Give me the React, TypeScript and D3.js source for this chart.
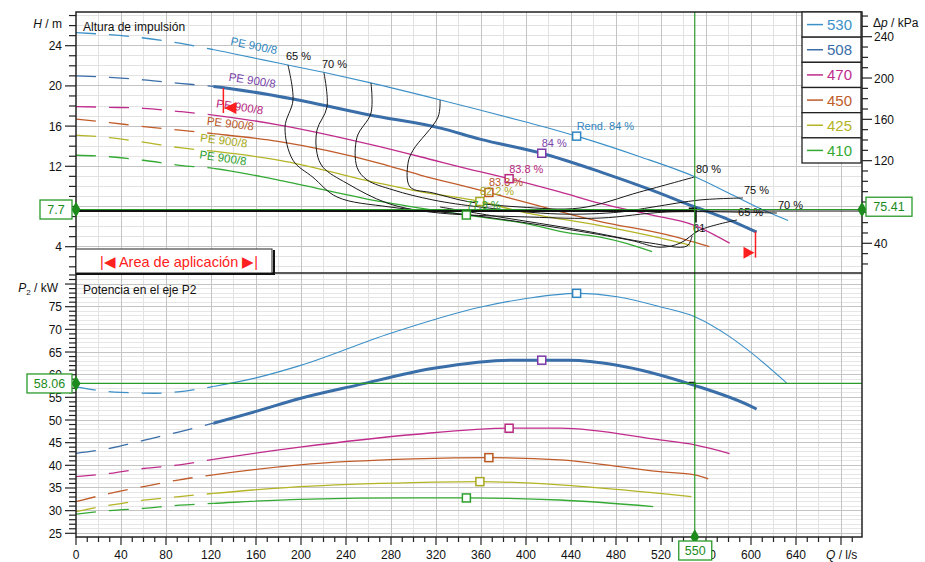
import React, { useRef, useEffect } from "react";
import * as d3 from "d3";

// impeller diameters shown in the legend
const diameters = ["530", "508", "470", "450", "425", "410"];

// head curves, [Q l/s, H m]
const head530 = [[0, 25.3], [50, 24.9], [92, 24.25], [140, 23.2], [181, 22.25], [222, 21.3], [262, 20.3], [324, 18.6], [359, 17.6], [400, 16.4], [445, 15.0], [500, 13.0], [549, 11.0], [580, 9.35], [608, 7.8], [633, 6.6]];
const head508 = [[0, 21.0], [30, 20.85], [60, 20.6], [92, 20.25], [122, 19.95], [193, 18.7], [261, 17.1], [324, 15.8], [359, 14.7], [414, 13.3], [466, 11.45], [510, 9.7], [549, 8.0], [580, 6.7], [605, 5.45]];
const head470 = [[0, 17.93], [30, 17.87], [60, 17.77], [92, 17.45], [122, 17.1], [181, 16.1], [270, 13.95], [306, 12.95], [359, 11.46], [384, 10.8], [430, 9.45], [466, 8.3], [510, 7.2], [549, 6.15], [581, 4.35]];
const head450 = [[0, 16.7], [30, 16.35], [60, 15.95], [92, 15.6], [122, 15.25], [181, 14.45], [270, 12.3], [306, 11.13], [359, 9.64], [410, 8.1], [466, 6.5], [525, 5.2], [563, 4.0]];
const head425 = [[0, 15.1], [30, 14.85], [60, 14.4], [92, 13.85], [122, 13.5], [181, 12.6], [270, 10.3], [306, 9.47], [359, 8.5], [395, 7.5], [466, 6.1], [510, 5.1], [546, 4.15]];
const head410 = [[0, 13.1], [30, 12.95], [60, 12.6], [92, 12.1], [122, 11.8], [181, 10.6], [270, 8.5], [347, 7.15], [400, 6.3], [439, 5.35], [466, 4.95], [490, 4.3], [512, 3.5]];

// shaft power curves, [Q l/s, P2 kW]
const power530 = [[0, 57.3], [20, 56.5], [40, 56.1], [70, 55.9], [100, 56.5], [122, 57.4], [160, 59.3], [199, 62.0], [279, 69.1], [361, 75.0], [400, 76.8], [445, 77.95], [481, 77.2], [519, 75.0], [550, 72.8], [581, 68.4], [601, 64.7], [632, 58.1]];
const power508 = [[0, 42.65], [30, 43.75], [60, 45.5], [92, 47.4], [122, 49.3], [160, 51.9], [199, 54.75], [250, 57.7], [318, 61.4], [386, 63.2], [439, 63.2], [481, 62.1], [549, 57.7], [601, 52.9], [605, 52.4]];
const power470 = [[0, 37.5], [30, 38.2], [60, 39.3], [92, 40.1], [122, 41.3], [199, 44.0], [300, 46.8], [386, 48.2], [430, 48.2], [519, 45.6], [550, 44.5], [581, 42.6]];
const power450 = [[0, 32.0], [30, 33.8], [60, 35.3], [92, 36.8], [122, 37.9], [199, 40.1], [300, 41.4], [367, 41.7], [430, 41.2], [519, 38.6], [550, 37.9], [562, 37.0]];
const power425 = [[0, 29.8], [30, 31.2], [60, 32.3], [92, 33.1], [122, 33.8], [199, 35.3], [300, 36.2], [359, 36.4], [430, 35.7], [519, 33.8], [547, 33.1]];
const power410 = [[0, 29.25], [30, 30.0], [60, 30.5], [92, 31.2], [122, 31.6], [199, 32.5], [300, 32.8], [347, 32.8], [430, 32.35], [513, 30.9]];

// best efficiency points
const bepFlow = [445, 414, 385, 367, 359, 347];
const bepText = ["Rend.  84 %", "84 %", "83.8 %", "83.3 %", "82.2 %", "77.8 %"];

// iso-efficiency lines, [Q, H]
const iso80 = [[323.6, 18.6], [321.8, 16.9], [299.6, 13.6], [295.1, 12.3], [296.9, 9.95], [317.3, 9.35], [350.2, 8.45], [394.7, 7.95], [448, 7.85], [501.3, 9.45], [550.2, 10.95]];
const iso75 = [[262.2, 20.3], [262.2, 17.3], [249.8, 14.9], [249.8, 11.9], [258.7, 10.65], [281.8, 9.65], [317.3, 8.65], [359.1, 7.95], [430.2, 7.25], [483.6, 7.45], [512.9, 7.95], [554.7, 8.65], [592.9, 8.85]];
const iso70 = [[220.4, 21.3], [223.1, 17.9], [214.2, 15.6], [214.2, 13.3], [219.6, 11.9], [240.9, 10.3], [276.4, 8.35], [314.7, 7.45], [403.6, 6.95], [465.8, 6.85], [525.3, 7.45], [623.1, 7.35]];
const iso65 = [[188.4, 22.08], [192.9, 18.6], [185.8, 15.9], [192.9, 12.6], [210.7, 10.9], [232, 8.95], [279.1, 7.95], [350.2, 7.15], [430.2, 5.85], [492.4, 4.65], [519.1, 3.95], [536.9, 4.35], [554.7, 5.66], [587.6, 6.66]];
const iso61 = [[323.6, 7.95], [376.9, 6.95], [448, 5.66], [510.2, 4.37], [543.1, 4.07], [547.6, 5.07]];
const isoNames = ["80 %", "75 %", "70 %", "65 %", "61"];
const isoTopNames = ["", "", "70 %", "65 %", ""];

// duty point and application range
const dutyQ = 550;
const dutyH = 7.7;
const dutyDp = 75.41;
const dutyP = 58.06;
const staticH = 7.55;
const appRange = [131, 604];

// tick labels
const qTicks = [0, 40, 80, 120, 160, 200, 240, 280, 320, 360, 400, 440, 480, 520, 560, 600, 640];
const hTicks = [4, 8, 12, 16, 20, 24];
const dpTicks = [40, 80, 120, 160, 200, 240];
const pTicks = [25, 30, 35, 40, 45, 50, 55, 60, 65, 70, 75];

const FONT = "'Liberation Sans', Arial, Helvetica, sans-serif";
const L = 76, R = 862, T = 12, MID = 273, B = 537;
const SPLIT = 122;

const lineColors = ["#3b90c8", "#3a6ea8", "#c02c8c", "#c05c2a", "#b4b426", "#34aa34"];
const textColors = ["#2f86c0", "#7a44aa", "#b8287f", "#b8561f", "#a8a820", "#2c9e2c"];
const markColors = ["#2f86c0", "#7a3aa8", "#b8287f", "#b8561f", "#a8a820", "#2c9e2c"];
const peLabelQ = [156, 155, 144, 136, 130, 129];
const green = "#2a9a2a";

const xS = d3.scaleLinear().domain([0, 640]).range([76, 796]);
const yH = d3.scaleLinear().domain([4, 24]).range([246.7, 45.7]);
const yK = d3.scaleLinear().domain([40, 240]).range([243.3, 36.7]);
const yP = d3.scaleLinear().domain([25, 75]).range([533.3, 306.7]);

const interp = (pts: number[][], q: number) => {
	for (let i = 1; i < pts.length; i++) {
		if (q <= pts[i][0]) {
			const [q0, v0] = pts[i - 1];
			const [q1, v1] = pts[i];
			return v0 + ((v1 - v0) * (q - q0)) / (q1 - q0);
		}
	}
	return pts[pts.length - 1][1];
};

const drawChart = (el: SVGSVGElement) => {
	const svg = d3.select(el);
	svg.selectAll("*").remove();
	svg.attr("font-family", FONT);
	svg.append("rect").attr("width", 925).attr("height", 562).attr("fill", "#fff");

	const defs = svg.append("defs");
	const addClip = (id: string, x: number, y: number, w: number, h: number) =>
		defs.append("clipPath").attr("id", id).append("rect").attr("x", x).attr("y", y).attr("width", w).attr("height", h);
	const xs = xS(SPLIT);
	addClip("cUp", L, T, R - L, MID - T);
	addClip("cUpDash", L, T, xs - L, MID - T);
	addClip("cUpSolid", xs, T, R - xs, MID - T);
	addClip("cLowDash", L, MID, xs - L, B - MID);
	addClip("cLowSolid", xs, MID, R - xs, B - MID);

	// grid
	const grid = svg.append("g").attr("shape-rendering", "crispEdges");
	const vGrid = (x: number, c: string) =>
		grid.append("line").attr("x1", x).attr("x2", x).attr("y1", T).attr("y2", B).attr("stroke", c);
	const hGrid = (y: number, c: string) =>
		grid.append("line").attr("x1", L).attr("x2", R).attr("y1", y).attr("y2", y).attr("stroke", c);
	d3.range(20, 700, 40).filter((q) => xS(q) < R).forEach((q) => vGrid(xS(q), "#e2e2e2"));
	d3.range(2, 28).filter((h) => h % 4 !== 0).map(yH).filter((y) => y > T && y < MID).forEach((y) => hGrid(y, "#e2e2e2"));
	d3.range(24, 83).filter((p) => p % 5 !== 0).map(yP).filter((y) => y > MID && y < B).forEach((y) => hGrid(y, "#e6e6e6"));
	d3.range(40, 700, 40).filter((q) => xS(q) < R).forEach((q) => vGrid(xS(q), "#c4c4c4"));
	d3.range(4, 28, 4).map(yH).filter((y) => y > T && y < MID).forEach((y) => hGrid(y, "#c4c4c4"));
	d3.range(25, 85, 5).map(yP).filter((y) => y > MID && y < B).forEach((y) => hGrid(y, "#c4c4c4"));

	// head and power curves
	const heads = [head530, head508, head470, head450, head425, head410];
	const powers = [power530, power508, power470, power450, power425, power410];
	const headLine = d3.line<number[]>().x((d) => xS(d[0])).y((d) => yH(d[1])).curve(d3.curveMonotoneX);
	const powerLine = d3.line<number[]>().x((d) => xS(d[0])).y((d) => yP(d[1])).curve(d3.curveMonotoneX);
	const curves = svg.append("g").attr("fill", "none");
	heads.forEach((pts, i) => {
		[[headLine(pts), "cUp"], [powerLine(powers[i]), "cLow"]].forEach(([d, c]) => {
			curves.append("path").attr("d", d as string).attr("clip-path", `url(#${c}Dash)`)
				.attr("stroke", lineColors[i]).attr("stroke-width", 1.3).attr("stroke-dasharray", "20 13");
			curves.append("path").attr("d", d as string).attr("clip-path", `url(#${c}Solid)`)
				.attr("stroke", lineColors[i]).attr("stroke-width", i === 1 ? 3 : i === 0 ? 1.1 : 1.3);
		});
	});

	// "PE 900/8" labels along head curves
	heads.forEach((pts, i) => {
		const q = peLabelQ[i];
		const x = xS(q);
		const y = yH(interp(pts, q));
		const ang = (Math.atan2(yH(interp(pts, q + 20)) - yH(interp(pts, q - 20)), xS(q + 20) - xS(q - 20)) * 180) / Math.PI;
		svg.append("text").attr("transform", `translate(${x},${y}) rotate(${ang}) translate(0,-8)`)
			.attr("text-anchor", "middle").attr("font-size", 11.5).attr("fill", textColors[i]).text("PE 900/8");
	});

	// iso-efficiency lines
	const isoSets = [iso80, iso75, iso70, iso65, iso61];
	const isoLine = d3.line<number[]>().x((d) => xS(d[0])).y((d) => yH(d[1])).curve(d3.curveCatmullRom.alpha(0.5));
	const iso = svg.append("g");
	isoSets.forEach((pts, i) => {
		iso.append("path").attr("d", isoLine(pts)).attr("clip-path", "url(#cUp)")
			.attr("fill", "none").attr("stroke", "#1a1a1a").attr("stroke-width", 1);
		const last = pts[pts.length - 1];
		iso.append("text").attr("x", xS(last[0]) + 1).attr("y", yH(last[1]) - 4)
			.attr("font-size", 11).attr("fill", "#111").text(isoNames[i]);
		if (isoTopNames[i]) {
			iso.append("text").attr("x", xS(pts[0][0]) - 2).attr("y", yH(pts[0][1]) - 5)
				.attr("font-size", 11).attr("fill", "#111").text(isoTopNames[i]);
		}
	});

	// duty lines
	const xd = xS(dutyQ);
	svg.append("line").attr("x1", L).attr("x2", xd).attr("y1", yH(staticH)).attr("y2", yH(staticH)).attr("stroke", "#111").attr("stroke-width", 2.2);
	svg.append("line").attr("x1", xd).attr("x2", R).attr("y1", yH(staticH)).attr("y2", yH(staticH)).attr("stroke", "#111").attr("stroke-width", 1);
	svg.append("path").attr("d", `M${xd - 6},${yH(dutyH) - 1}L${xd + 1},${yH(dutyH) - 1}L${xd + 1},${yH(dutyH) + 13}`).attr("fill", "none").attr("stroke", "#111").attr("stroke-width", 2);
	svg.append("path").attr("d", `M${xd - 6},${yP(dutyP) - 1}L${xd},${yP(dutyP) - 1}L${xd},${yP(dutyP) + 6}`).attr("fill", "none").attr("stroke", "#111").attr("stroke-width", 1.5);
	svg.append("line").attr("x1", L).attr("x2", R).attr("y1", yH(dutyH)).attr("y2", yH(dutyH)).attr("stroke", green).attr("stroke-width", 1.2);
	svg.append("line").attr("x1", L).attr("x2", R).attr("y1", yP(dutyP)).attr("y2", yP(dutyP)).attr("stroke", green).attr("stroke-width", 1.2);
	svg.append("line").attr("x1", xd).attr("x2", xd).attr("y1", T).attr("y2", B).attr("stroke", green).attr("stroke-width", 1.2);

	// best efficiency markers and labels
	heads.forEach((pts, i) => {
		const q = bepFlow[i];
		const x = xS(q);
		[yH(interp(pts, q)), yP(interp(powers[i], q))].forEach((y) => {
			svg.append("rect").attr("x", x - 4).attr("y", y - 4).attr("width", 8).attr("height", 8)
				.attr("fill", "#fff").attr("stroke", markColors[i]).attr("stroke-width", 1.5);
		});
		svg.append("text").attr("x", x).attr("y", yH(interp(pts, q)) - 6)
			.attr("font-size", 11).attr("fill", textColors[i]).text(bepText[i]);
	});

	// frame
	const frame = svg.append("g").attr("stroke", "#222").attr("stroke-width", 1.5).attr("fill", "none");
	frame.append("rect").attr("x", L).attr("y", T).attr("width", R - L).attr("height", B - T);
	frame.append("line").attr("x1", L).attr("x2", R).attr("y1", MID).attr("y2", MID);

	// axes (labels hidden by the duty value boxes are left out, as in the source)
	const ax = svg.append("g").attr("stroke", "#222").attr("stroke-width", 1.2);
	const labels = svg.append("g").attr("font-size", 12).attr("fill", "#111");
	d3.range(0, 700, 10).filter((q) => xS(q) <= R).forEach((q) => {
		ax.append("line").attr("x1", xS(q)).attr("x2", xS(q)).attr("y1", B).attr("y2", B + (q % 40 === 0 ? 8 : 5));
	});
	qTicks.forEach((q) => labels.append("text").attr("x", xS(q)).attr("y", 559).attr("text-anchor", "middle").text(q));
	d3.range(2, 28).filter((h) => yH(h) > T && yH(h) < MID).forEach((h) => {
		ax.append("line").attr("x1", L).attr("x2", L - (h % 4 === 0 ? 11 : 7)).attr("y1", yH(h)).attr("y2", yH(h));
	});
	hTicks.filter((h) => Math.abs(yH(h) - yH(dutyH)) > 6)
		.forEach((h) => labels.append("text").attr("x", 62).attr("y", yH(h) + 4.5).attr("text-anchor", "end").text(h));
	d3.range(24, 83).filter((p) => yP(p) > MID && yP(p) < B).forEach((p) => {
		ax.append("line").attr("x1", L).attr("x2", L - (p % 5 === 0 ? 11 : 7)).attr("y1", yP(p)).attr("y2", yP(p));
	});
	pTicks.forEach((p) => labels.append("text").attr("x", 62).attr("y", yP(p) + 4.5).attr("text-anchor", "end").text(p));
	d3.range(20, 270, 10).filter((k) => yK(k) > T && yK(k) < MID).forEach((k) => {
		ax.append("line").attr("x1", R).attr("x2", R + (k % 40 === 0 ? 10 : 6)).attr("y1", yK(k)).attr("y2", yK(k));
	});
	dpTicks.filter((k) => Math.abs(yK(k) - yK(dutyDp)) > 6)
		.forEach((k) => labels.append("text").attr("x", 874).attr("y", yK(k) + 4.5).text(k));

	// axis titles
	const t1 = labels.append("text").attr("x", 62).attr("y", 28).attr("text-anchor", "end");
	t1.append("tspan").attr("font-style", "italic").text("H");
	t1.append("tspan").text(" / m");
	const t2 = labels.append("text").attr("x", 58).attr("y", 292).attr("text-anchor", "end");
	t2.append("tspan").attr("font-style", "italic").text("P");
	t2.append("tspan").attr("font-size", 8).attr("dy", 3).text("2");
	t2.append("tspan").attr("dy", -3).text(" / kW");
	const t3 = labels.append("text").attr("x", 873).attr("y", 27);
	t3.append("tspan").text("Δ");
	t3.append("tspan").attr("font-style", "italic").text("p");
	t3.append("tspan").text(" / kPa");
	const t4 = labels.append("text").attr("x", 826).attr("y", 559);
	t4.append("tspan").attr("font-style", "italic").text("Q");
	t4.append("tspan").text(" / l/s");
	labels.append("text").attr("x", 83).attr("y", 31).text("Altura de impulsión");
	labels.append("text").attr("x", 83).attr("y", 294).text("Potencia en el eje P2");

	// legend
	const lg = svg.append("g");
	const rowH = (163 - T) / diameters.length;
	diameters.forEach((d, i) => {
		const y0 = T + i * rowH;
		lg.append("rect").attr("x", 802).attr("y", y0).attr("width", 59).attr("height", rowH)
			.attr("fill", "#fff").attr("stroke", "#222").attr("stroke-width", 1.3);
		lg.append("line").attr("x1", 807).attr("x2", 823).attr("y1", y0 + rowH / 2).attr("y2", y0 + rowH / 2)
			.attr("stroke", lineColors[i]).attr("stroke-width", 1.5);
		lg.append("text").attr("x", 827).attr("y", y0 + rowH / 2 + 5.5).attr("font-size", 15)
			.attr("fill", lineColors[i]).text(d);
	});

	// application area box
	svg.append("rect").attr("x", L).attr("y", 249).attr("width", 196).attr("height", 24)
		.attr("fill", "#fff").attr("stroke", "#222").attr("stroke-width", 1);
	svg.append("path").attr("d", `M${L + 198},250L${L + 198},274L${L},274`).attr("fill", "none").attr("stroke", "#111").attr("stroke-width", 2);
	svg.append("text").attr("x", L + 103).attr("y", 266.5).attr("text-anchor", "middle").attr("font-size", 14.5)
		.attr("fill", "#ff2020").text("|◀ Area de aplicación ▶|");

	// application range markers on the selected curve
	const xa = xS(appRange[0]);
	const ya = yH(interp(head508, appRange[0]));
	const xb = xS(appRange[1]);
	const yb = yH(interp(head508, appRange[1]));
	const red = "#ff1e1e";
	svg.append("line").attr("x1", xa).attr("x2", xa).attr("y1", ya).attr("y2", ya + 25).attr("stroke", red).attr("stroke-width", 1.5);
	svg.append("path").attr("d", `M${xa + 1},${ya + 20}L${xa + 13},${ya + 14}L${xa + 13},${ya + 26}Z`).attr("fill", red);
	svg.append("line").attr("x1", xb).attr("x2", xb).attr("y1", yb).attr("y2", yb + 26).attr("stroke", red).attr("stroke-width", 1.5);
	svg.append("path").attr("d", `M${xb - 1},${yb + 21}L${xb - 12},${yb + 15}L${xb - 12},${yb + 27}Z`).attr("fill", red);

	// duty value boxes
	const diamond = d3.symbol().type(d3.symbolDiamond).size(70);
	[[L, yH(dutyH)], [R, yH(dutyH)], [L, yP(dutyP)], [xd, B]].forEach(([x, y]) => {
		svg.append("path").attr("d", diamond()).attr("transform", `translate(${x},${y})`).attr("fill", "#1d8a1d");
	});
	const box = (x: number, y: number, w: number, txt: string) => {
		svg.append("rect").attr("x", x).attr("y", y).attr("width", w).attr("height", 19)
			.attr("fill", "#fff").attr("stroke", green).attr("stroke-width", 1.3);
		svg.append("text").attr("x", x + w / 2).attr("y", y + 14).attr("text-anchor", "middle")
			.attr("font-size", 12.5).attr("fill", "#1d8a1d").text(txt);
	};
	box(40, yH(dutyH) - 9.5, 32, String(dutyH));
	box(866, yK(dutyDp) - 9.5, 46, String(dutyDp));
	box(27, yP(dutyP) - 9.5, 45, String(dutyP));
	box(xd - 16, 541, 33, String(dutyQ));

	return svg;
};

const App = () => {
	const svgRef = useRef<SVGSVGElement>(null);

	useEffect(() => {
		if (svgRef.current) drawChart(svgRef.current);
	}, []);

	return (
		<svg ref={svgRef} width={925} height={562} style={{ position: "absolute", left: 0, top: 0, display: "block" }} />
	);
};

export default App;
